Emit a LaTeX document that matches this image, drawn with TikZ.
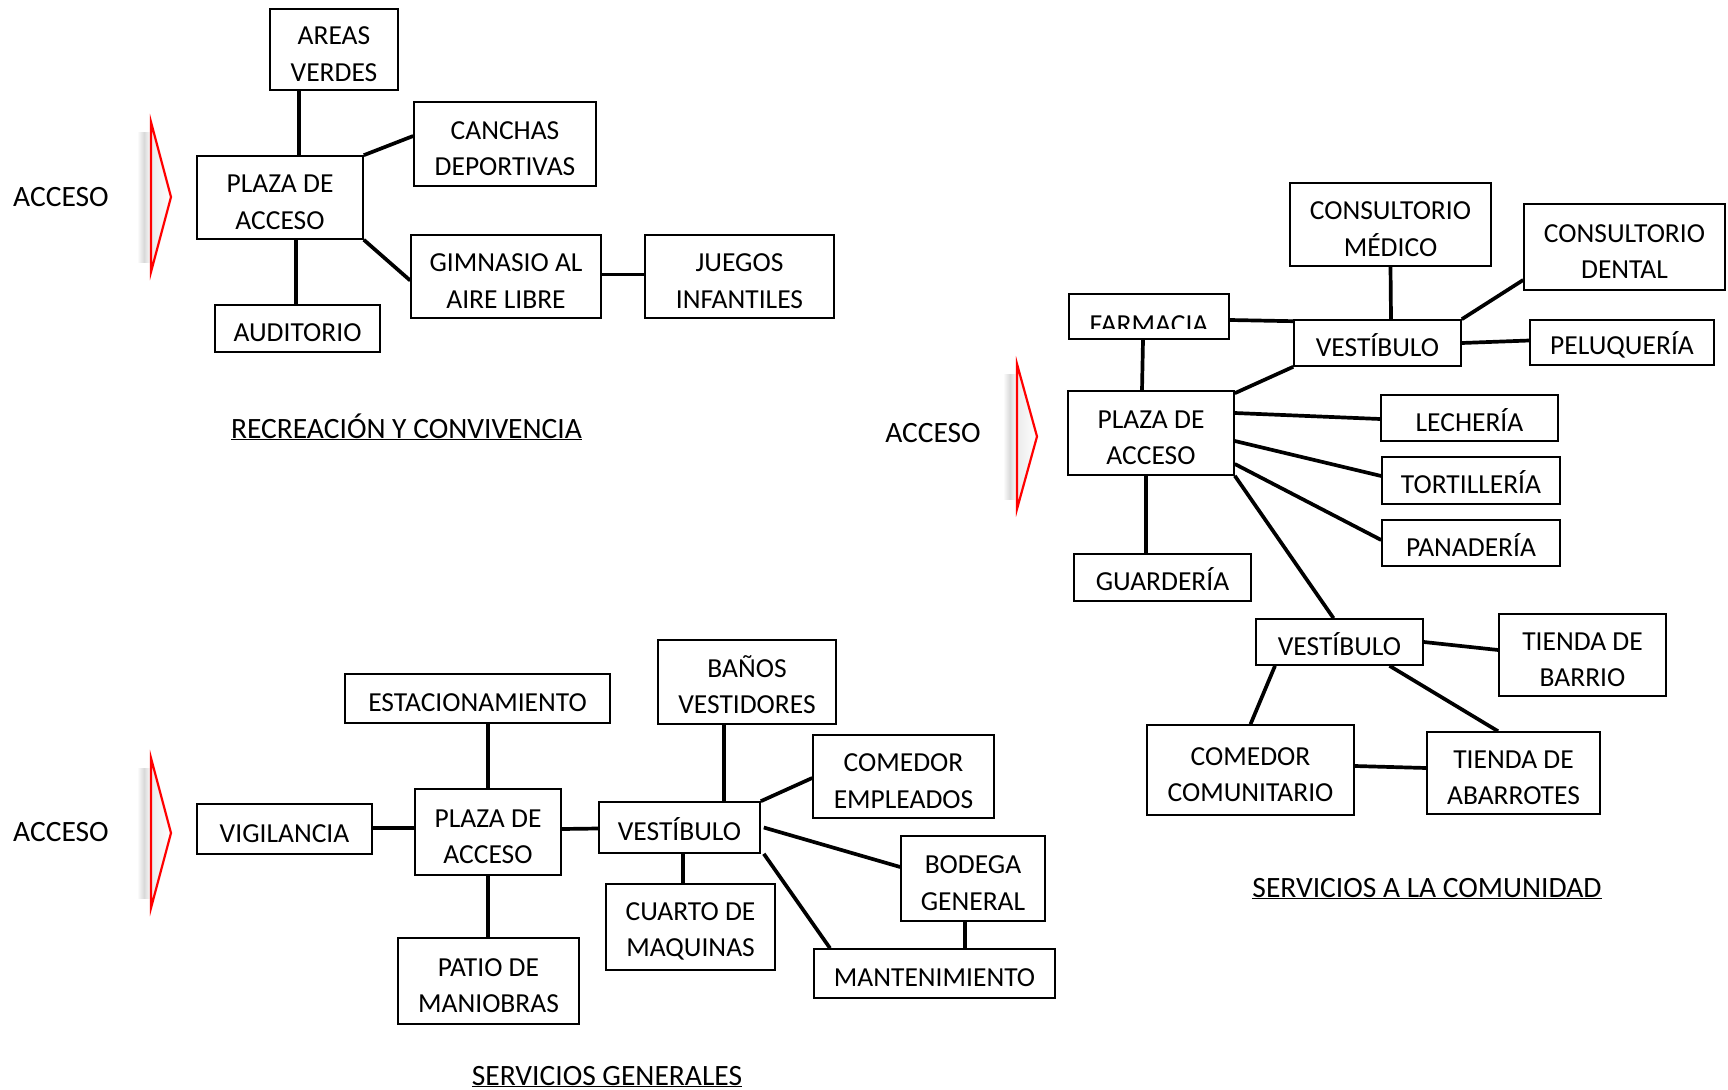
\documentclass[tikz,border=0pt]{standalone}
\usepackage{fontspec}
\setmainfont{Carlito}
\tikzset{
  box/.style={draw, line width=1.6pt, inner sep=0pt, align=center, font=\fontsize{27.5}{36.5}\selectfont},
  conn/.style={line width=3.7pt},
  lbl/.style={inner sep=0pt, anchor=base, font=\fontsize{29.5}{36.5}\selectfont},
}
\newcommand\bx[6]{\node[box,minimum width={#4-#2},minimum height={#5-#3}] (#1) at ({(#2+#4)/2},{(#3+#5)/2}) {\rule{0pt}{27pt}#6};}
\newcommand\accarrow[3]{%
  \shade[left color=white,right color=white,middle color=black!15] (#1-14,#2+10) rectangle (#1,#3-10);
  \shade[left color=black!8,right color=white] (#1,#2) -- (#1+20,{(#2+#3)/2}) -- (#1,#3) -- cycle;
  \draw[red, line width=2.2pt, line join=miter] (#1,#2) -- (#1+20,{(#2+#3)/2}) -- (#1,#3) -- cycle;}
\begin{document}
\begin{tikzpicture}[x=1pt,y=-1pt]
\useasboundingbox (0,0) rectangle (1728,1089);
\fill[white] (0,0) rectangle (1728,1089);

% ---------------- RECREACION Y CONVIVENCIA
\node[lbl] (acc1) at (61,206) {ACCESO};
\accarrow{151}{122}{272}
\bx{areas}{270}{9}{398}{90}{AREAS\\VERDES}
\bx{canchas}{414}{102}{596}{186}{CANCHAS\\DEPORTIVAS}
\bx{plaza1}{197}{156}{363}{239}{PLAZA DE\\ACCESO}
\bx{gim}{411}{235}{601}{318}{GIMNASIO AL\\AIRE LIBRE}
\bx{juegos}{645}{235}{834}{318}{JUEGOS\\INFANTILES}
\bx{audit}{215}{305}{380}{352}{AUDITORIO}
\node[lbl] (t1) at (406.5,438) {\underline{RECREACIÓN Y CONVIVENCIA}};

\draw[conn] ([xshift=-35]areas.south) -- ([xshift=19]plaza1.north);
\draw[conn] (plaza1.north east) -- ([yshift=8]canchas.west);
\draw[conn] (plaza1.south east) -- ([yshift=-4]gim.west);
\draw[conn] ([yshift=2]gim.east) -- ([yshift=2]juegos.west);
\draw[conn] ([xshift=16]plaza1.south) -- ([xshift=-1.5]audit.north);

% ---------------- SERVICIOS GENERALES
\node[lbl] (acc2) at (61,841) {ACCESO};
\accarrow{151}{758}{908}
\bx{estac}{345}{674}{610}{723}{ESTACIONAMIENTO}
\bx{banos}{658}{640}{836}{724}{BAÑOS\\VESTIDORES}
\bx{comemp}{813}{735}{994}{818}{COMEDOR\\EMPLEADOS}
\bx{vig}{197}{804}{372}{854}{VIGILANCIA}
\bx{plaza2}{415}{789}{561}{875}{PLAZA DE\\ACCESO}
\bx{vest2}{599}{802}{760}{853}{VESTÍBULO}
\bx{cuarto}{606}{884}{775}{970}{CUARTO DE\\MAQUINAS}
\bx{bodega}{901}{836}{1045}{921}{BODEGA\\GENERAL}
\bx{mant}{814}{949}{1055}{998}{MANTENIMIENTO}
\bx{patio}{398}{938}{579}{1024}{PATIO DE\\MANIOBRAS}
\node[lbl] (t2) at (607,1085) {\underline{SERVICIOS GENERALES}};

\draw[conn] ([xshift=10.5]estac.south) -- (plaza2.north);
\draw[conn] ([yshift=1]vig.east) -- ([yshift=4]plaza2.west);
\draw[conn] ([yshift=3]plaza2.east) -- ([yshift=-1]vest2.west);
\draw[conn] ([xshift=-23]banos.south) -- ([xshift=44.5]vest2.north);
\draw[conn] (vest2.north east) -- ([yshift=-1.5]comemp.west);
\draw[conn] ([xshift=3]vest2.east) -- ([yshift=11.5]bodega.west);
\draw[conn] ([xshift=3]vest2.south east) -- ([xshift=-104.5]mant.north);
\draw[conn] ([xshift=3.5]vest2.south) -- ([xshift=-7.5]cuarto.north);
\draw[conn] ([xshift=-8]bodega.south) -- ([xshift=30.5]mant.north);
\draw[conn] (plaza2.south) -- ([xshift=-0.5]patio.north);

% ---------------- SERVICIOS A LA COMUNIDAD
\node[lbl] (acc3) at (933,442) {ACCESO};
\accarrow{1017}{364}{509}
\bx{medico}{1290}{183}{1491}{266}{CONSULTORIO\\MÉDICO}
\bx{dental}{1524}{204}{1725}{290}{CONSULTORIO\\DENTAL}
\bx{farm}{1069}{294}{1229}{339}{}
\begin{scope}
  \clip (farm.north west) rectangle ([yshift=11]farm.south east);
  \node[lbl, font=\fontsize{27.5}{36.5}\selectfont] (farmtxt) at ([yshift=-16.5]farm.center) {FARMACIA};
\end{scope}
\bx{vest3}{1294}{320}{1461}{366}{VESTÍBULO}
\bx{pel}{1530}{320}{1714}{365}{PELUQUERÍA}
\bx{plaza3}{1068}{391}{1234}{475}{PLAZA DE\\ACCESO}
\bx{lech}{1381}{395}{1558}{441}{LECHERÍA}
\bx{tort}{1382}{457}{1560}{504}{TORTILLERÍA}
\bx{pan}{1382}{520}{1560}{566}{PANADERÍA}
\bx{guard}{1074}{554}{1251}{601}{GUARDERÍA}
\bx{vest4}{1256}{619}{1423}{665}{VESTÍBULO}
\bx{barrio}{1499}{614}{1666}{696}{TIENDA DE\\BARRIO}
\bx{comcom}{1147}{725}{1354}{815}{COMEDOR\\COMUNITARIO}
\bx{abar}{1427}{732}{1600}{814}{TIENDA DE\\ABARROTES}
\node[lbl] (t3) at (1427,897) {\underline{SERVICIOS A LA COMUNIDAD}};

\draw[conn] ([yshift=-3.5]farm.east) -- ([yshift=-2]vest3.north west);
\draw[conn] (medico.south) -- ([xshift=13.5]vest3.north);
\draw[conn] ([yshift=-33]dental.west) -- (vest3.north east);
\draw[conn] (vest3.east) -- ([yshift=2]pel.west);
\draw[conn] ([xshift=-6]farm.south) -- ([xshift=-9]plaza3.north);
\draw[conn] ([yshift=-3]plaza3.north east) -- (vest3.south west);
\draw[conn] ([yshift=20]plaza3.east) -- ([yshift=-1]lech.west);
\draw[conn] ([yshift=-8]plaza3.east) -- ([yshift=4.5]tort.west);
\draw[conn] ([yshift=-31]plaza3.east) -- ([yshift=3]pan.west);
\draw[conn] ([xshift=-5]plaza3.south) -- ([xshift=-16.5]guard.north);
\draw[conn] (plaza3.south east) -- ([xshift=-6]vest4.north);
\draw[conn] (vest4.east) -- ([yshift=5]barrio.west);
\draw[conn] ([xshift=50]vest4.south) -- ([xshift=-15.5]abar.north);
\draw[conn] ([xshift=-64.5]vest4.south) -- (comcom.north);
\draw[conn] ([yshift=4]comcom.east) -- ([yshift=5]abar.west);
\end{tikzpicture}
\end{document}
